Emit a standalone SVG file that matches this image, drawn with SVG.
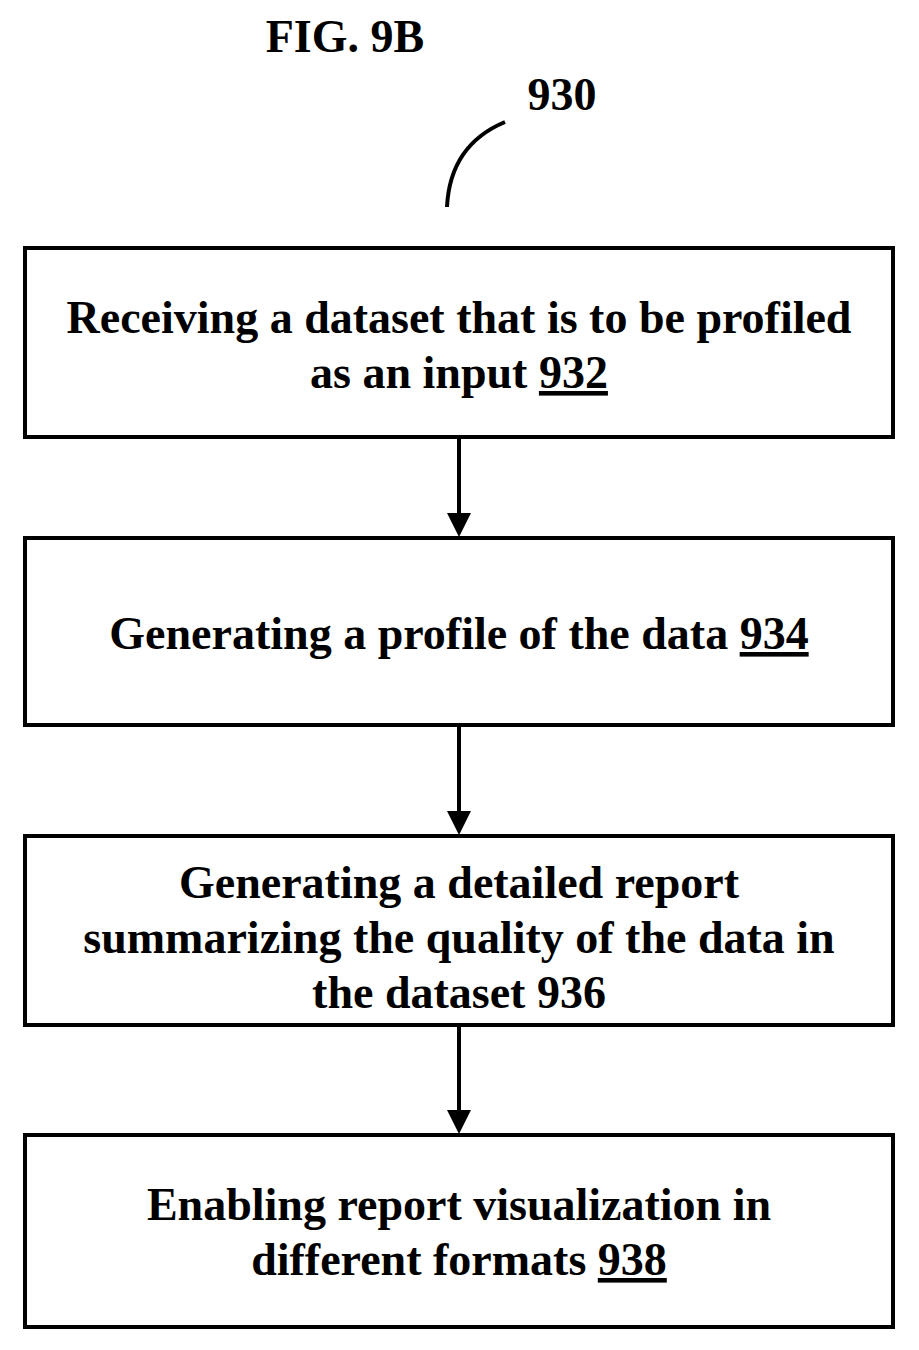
<svg xmlns="http://www.w3.org/2000/svg" width="919" height="1350" viewBox="0 0 919 1350">
<defs>
<style>
.box{fill:#fff;stroke:#000;stroke-width:4}
text{font-family:"Liberation Serif",serif;font-weight:bold;font-size:46px;fill:#000;text-anchor:middle}
.u{text-decoration:underline}
.c{stroke:#000;stroke-width:4;fill:none}
</style>
<marker id="ah" markerWidth="6" markerHeight="6" refX="5" refY="3" orient="auto" markerUnits="strokeWidth"><path d="M0,0 L6,3 L0,6 z" fill="#000"/></marker>
</defs>
<text x="345" y="52" font-size="43">FIG. 9B</text>
<text x="562" y="110" font-size="43">930</text>
<path class="c" d="M447,207 Q450,145 505,122"/>
<g id="connectors">
<line class="c" x1="459" y1="437" x2="459" y2="533" marker-end="url(#ah)"/>
<line class="c" x1="459" y1="725" x2="459" y2="831" marker-end="url(#ah)"/>
<line class="c" x1="459" y1="1025" x2="459" y2="1130" marker-end="url(#ah)"/>
</g>
<g id="n932"><rect class="box" x="25" y="248" width="868" height="189"/>
<text x="459" y="333">Receiving a dataset that is to be profiled</text>
<text x="459" y="388">as an input <tspan class="u">932</tspan></text></g>
<g id="n934"><rect class="box" x="25" y="538" width="868" height="187"/>
<text x="459" y="649">Generating a profile of the data <tspan class="u">934</tspan></text></g>
<g id="n936"><rect class="box" x="25" y="836" width="868" height="189"/>
<text x="459" y="898">Generating a detailed report</text>
<text x="459" y="953">summarizing the quality of the data in</text>
<text x="459" y="1008">the dataset 936</text></g>
<g id="n938"><rect class="box" x="25" y="1135" width="868" height="192"/>
<text x="459" y="1220">Enabling report visualization in</text>
<text x="459" y="1275">different formats <tspan class="u">938</tspan></text></g>
</svg>
